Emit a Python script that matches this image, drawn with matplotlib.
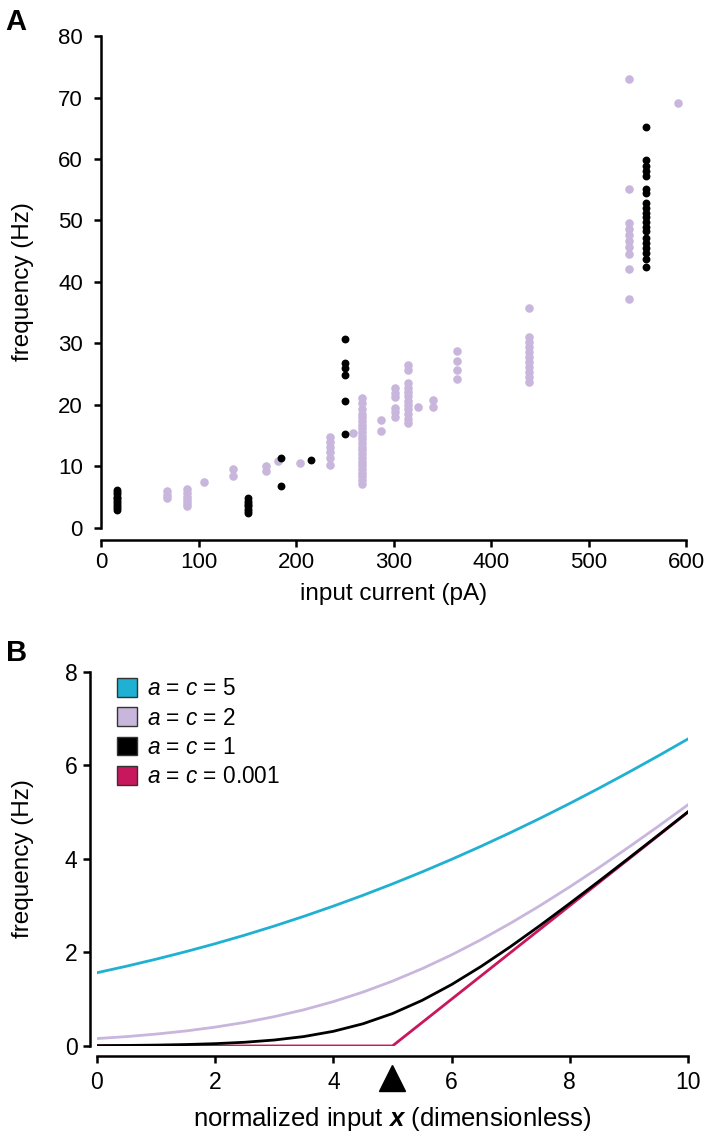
import numpy as np
import matplotlib.pyplot as plt
from matplotlib.patches import Patch

plt.rcParams['font.family'] = ['Liberation Sans', 'DejaVu Sans']
plt.rcParams['mathtext.fontset'] = 'custom'
plt.rcParams['mathtext.rm'] = 'Liberation Sans'
plt.rcParams['mathtext.it'] = 'Liberation Sans:italic'
plt.rcParams['mathtext.bf'] = 'Liberation Sans:bold:italic'

# ---- panel A: measured f-I points ----
lav_current = [68, 88, 106, 135, 169, 182, 204, 235, 258, 268, 287, 301,
               315, 325, 340, 365, 439, 541, 592]
lav_freq = [
    [6.0, 5.4, 4.8],
    [6.3, 5.7, 5.1, 4.6, 4.0, 3.5],
    [7.5],
    [9.6, 8.4],
    [10.1, 9.3],
    [10.9],
    [10.5],
    [14.8, 14.0, 13.2, 12.3, 11.3, 10.3],
    [15.4],
    [21.1, 20.4, 19.3, 18.6, 18.0, 17.4, 16.8, 16.2, 15.6, 15.0, 14.4, 13.8,
     13.2, 12.6, 12.0, 11.4, 10.8, 10.2, 9.6, 9.0, 8.4, 7.8, 7.2],
    [17.5, 15.7],
    [22.7, 22.0, 21.3, 19.5, 18.8, 18.1],
    [26.5, 25.7, 23.5, 22.8, 22.1, 21.4, 20.7, 20.0, 19.3, 18.6, 17.8, 17.0],
    [19.6],
    [20.8, 19.6],
    [28.8, 27.2, 25.7, 24.2],
    [35.8, 31.0, 30.2, 29.4, 28.6, 27.8, 27.0, 26.2, 25.4, 24.6, 23.8],
    [73.0, 55.2, 49.6, 48.6, 47.6, 46.6, 45.7, 44.5, 42.1, 37.3],
    [69.1],
]

blk_current = [16, 151, 185, 215, 250, 559]
blk_freq = [
    [3.0, 3.3, 3.6, 3.9, 4.2, 4.5, 4.8, 5.1, 5.5, 5.9, 6.2],
    [2.5, 2.8, 3.1, 3.5, 3.8, 4.1, 4.4, 4.8],
    [11.4, 6.9],
    [11.1],
    [30.8, 26.9, 26.0, 24.9, 20.7, 15.3],
    [65.2, 59.8, 58.9, 58.0, 57.2, 55.2, 54.5, 52.8, 52.0, 51.3, 50.5, 49.8,
     49.0, 48.3, 47.2, 46.3, 45.5, 44.7, 43.8, 42.4],
]

# ---- panel B: model curves ----
x_norm = [0, 0.5, 1, 1.5, 2, 2.5, 3, 3.5, 4, 4.5, 5, 5.5, 6, 6.5, 7, 7.5,
          8, 8.5, 9, 9.5, 10]
f_ac5 = [1.566, 1.706, 1.856, 2.016, 2.187, 2.370, 2.565, 2.772, 2.991, 3.222,
         3.466, 3.722, 3.991, 4.272, 4.565, 4.870, 5.187, 5.516, 5.856, 6.206,
         6.566]
f_ac2 = [0.158, 0.200, 0.254, 0.320, 0.403, 0.504, 0.627, 0.774, 0.948, 1.152,
         1.386, 1.652, 1.948, 2.274, 2.627, 3.004, 3.403, 3.820, 4.254, 4.700,
         5.158]
f_ac1 = [0.007, 0.011, 0.018, 0.030, 0.049, 0.079, 0.127, 0.201, 0.313, 0.474,
         0.693, 0.974, 1.313, 1.701, 2.127, 2.579, 3.049, 3.530, 4.018, 4.511,
         5.007]
x_relu = [0, 5, 10]
f_ac0 = [0, 0, 5]

labels_b = ['$a$ = $c$ = 5', '$a$ = $c$ = 2', '$a$ = $c$ = 1', '$a$ = $c$ = 0.001']
cols_b = ['#1fb0d2', '#c8b6dc', 'black', '#c8175c']
lav = '#c8b6dc'

fig = plt.figure(figsize=(7.08, 11.47), dpi=100, facecolor='white')

# ---------------- A ----------------
ax1 = fig.add_axes([0.1427, 0.5397, 0.8263, 0.4289])
for c, fs in zip(lav_current, lav_freq):
    ax1.scatter([c] * len(fs), fs, s=38, color=lav, linewidths=0, zorder=2)
for c, fs in zip(blk_current, blk_freq):
    ax1.scatter([c] * len(fs), fs, s=32, color='black', linewidths=0, zorder=3)
ax1.set_xlim(0, 600)
ax1.set_ylim(0, 80)
ax1.set_xticks(np.arange(0, 601, 100))
ax1.set_yticks(np.arange(0, 81, 10))
ax1.spines['top'].set_visible(False)
ax1.spines['right'].set_visible(False)
ax1.spines['bottom'].set_position(('outward', 8.6))
for sp in ['left', 'bottom']:
    ax1.spines[sp].set_linewidth(1.8)
ax1.tick_params(width=1.8, length=5, labelsize=16)
ax1.tick_params(axis='y', pad=8)
ax1.tick_params(axis='x', pad=4)
ax1.set_xlabel('input current (pA)', fontsize=17.5, labelpad=7)
ax1.set_ylabel('frequency (Hz)', fontsize=17.5, labelpad=17)
fig.text(0.008, 0.993, 'A', fontsize=21, fontweight='bold', va='top')

# ---------------- B ----------------
ax2 = fig.add_axes([0.137, 0.0881, 0.8347, 0.3261])
ax2.plot(x_relu, f_ac0, color=cols_b[3], lw=2.0, zorder=2)
ax2.plot(x_norm, f_ac1, color=cols_b[2], lw=2.0, zorder=3)
ax2.plot(x_norm, f_ac2, color=cols_b[1], lw=2.0, zorder=2)
ax2.plot(x_norm, f_ac5, color=cols_b[0], lw=2.0, zorder=2)
ax2.set_xlim(0, 10)
ax2.set_ylim(0, 8)
ax2.set_xticks(np.arange(0, 11, 2))
ax2.set_yticks(np.arange(0, 9, 2))
ax2.spines['top'].set_visible(False)
ax2.spines['right'].set_visible(False)
ax2.spines['bottom'].set_position(('outward', 7))
ax2.spines['left'].set_position(('outward', 5))
for sp in ['left', 'bottom']:
    ax2.spines[sp].set_linewidth(1.8)
ax2.tick_params(width=1.8, length=5, labelsize=16.5)
ax2.tick_params(axis='y', pad=4)
ax2.tick_params(axis='x', pad=6)
ax2.set_xlabel(r'normalized input $\mathbf{x}$ (dimensionless)', fontsize=18.5, labelpad=8)
ax2.set_ylabel('frequency (Hz)', fontsize=17.5, labelpad=22)
ax2.plot([5], [-0.085], marker='^', ms=19, color='black',
         transform=ax2.get_xaxis_transform(), clip_on=False)
handles = [Patch(facecolor=c, edgecolor='#333333', linewidth=1.0) for c in cols_b]
ax2.legend(handles, labels_b, loc='upper left', bbox_to_anchor=(0.152, 0.4175),
           bbox_transform=fig.transFigure,
           frameon=False, fontsize=16.3, handlelength=0.9, handleheight=0.9,
           handletextpad=0.45, labelspacing=0.28, borderaxespad=0)
fig.text(0.008, 0.443, 'B', fontsize=21, fontweight='bold', va='top')

fig.savefig('out.png', dpi=100, facecolor='white')
